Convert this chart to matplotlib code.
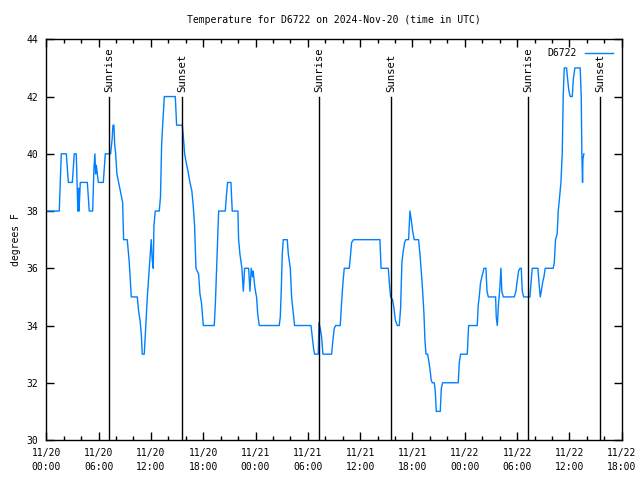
#!/usr/bin/env python3
"""Temperature trace for station D6722, gnuplot-like look."""
from datetime import datetime, timedelta
import matplotlib
matplotlib.use("Agg")
import matplotlib.pyplot as plt
import matplotlib.dates as mdates

# hours since 2024-11-20 00:00 UTC, temperature (F)
hours = [0.0, 1.49, 1.72, 2.30, 2.53, 2.99, 3.21, 3.44, 3.62, 3.67, 3.72, 3.76, 3.90, 4.71,
         4.93, 5.32, 5.47, 5.58, 5.66, 5.74, 5.97, 6.54, 6.77, 7.38, 7.55, 7.65, 7.76, 7.85,
         7.96, 8.10, 8.30, 8.50, 8.76, 8.87, 9.29, 9.52, 9.75, 10.44, 10.59, 10.75, 10.90,
         11.01, 11.24, 11.36, 11.59, 11.82, 12.04, 12.15, 12.27, 12.35, 12.50, 12.96, 13.10,
         13.23, 13.35, 13.54, 14.80, 14.95, 15.60, 15.72, 15.87, 16.05, 16.25, 16.48, 16.70,
         16.85, 17.01, 17.17, 17.47, 17.63, 17.80, 18.01, 19.27, 19.40, 19.54, 19.69, 19.77,
         20.53, 20.65, 20.80, 21.18, 21.33, 21.98, 22.06, 22.21, 22.44, 22.60, 22.75, 23.21,
         23.36, 23.51, 23.66, 23.74, 23.90, 24.05, 24.12, 24.25, 24.43, 26.72, 26.84, 26.95,
         27.07, 27.18, 27.64, 27.76, 27.99, 28.14, 28.37, 28.48, 30.36, 30.51, 30.66, 30.78,
         31.20, 31.27, 31.42, 31.58, 31.73, 32.73, 32.88, 33.03, 33.19, 33.34, 33.72, 33.87,
         34.03, 34.18, 34.75, 34.88, 35.02, 35.25, 38.27, 38.40, 39.23, 39.35, 39.49, 39.72,
         39.88, 40.03, 40.26, 40.49, 40.64, 40.72, 40.79, 40.94, 41.10, 41.25, 41.56, 41.71,
         41.86, 42.02, 42.21, 42.70, 42.86, 43.01, 43.17, 43.32, 43.43, 43.55, 43.74, 43.85,
         44.00, 44.15, 44.27, 44.50, 44.62, 44.73, 45.19, 45.31, 45.46, 47.25, 47.37, 47.52,
         48.29, 48.37, 48.44, 49.43, 49.54, 49.66, 49.81, 49.97, 50.20, 50.43, 50.55, 50.70,
         51.54, 51.61, 51.73, 51.88, 52.00, 52.15, 52.25, 52.42, 53.68, 53.87, 54.03, 54.17,
         54.33, 54.48, 54.60, 54.75, 55.47, 55.60, 55.74, 56.39, 56.51, 56.66, 56.78, 56.93,
         57.08, 57.23, 58.15, 58.27, 58.41, 58.60, 58.72, 58.85, 59.03, 59.18, 59.29, 59.41,
         59.68, 59.80, 59.94, 60.10, 60.33, 60.45, 60.63, 61.24, 61.36, 61.43, 61.51, 61.55,
         61.66]
temps = [38, 38, 40, 40, 39, 39, 40, 40, 38, 38, 38.8, 38, 39, 39,
         38, 38, 39.5, 40, 39.3, 39.6, 39, 39, 40, 40, 40.5, 41, 41, 40.3,
         40, 39.3, 39, 38.7, 38.3, 37, 37, 36.2, 35, 35, 34.5, 34.2, 33.7,
         33, 33, 33.7, 35, 36, 37, 36.3, 36, 37.5, 38, 38, 38.5,
         40.3, 41, 42, 42, 41, 41, 40.6, 40, 39.7, 39.4, 39, 38.7,
         38.2, 37.5, 36, 35.8, 35.1, 34.8, 34, 34, 34.8, 36, 37.2, 38,
         38, 38.5, 39, 39, 38, 38, 37, 36.5, 36, 35.2, 36, 36,
         35.2, 36, 35.7, 35.9, 35.4, 35.1, 35, 34.4, 34, 34, 34.3, 35.2,
         36.5, 37, 37, 36.5, 36, 35, 34.3, 34, 34, 33.6, 33.2, 33,
         33, 34.1, 33.9, 33.6, 33, 33, 33.5, 33.9, 34, 34, 34, 34.8,
         35.5, 36, 36, 36.4, 36.9, 37, 37, 36, 36, 35.5, 35, 34.9,
         34.6, 34.2, 34, 34, 34.6, 35.5, 36.2, 36.6, 36.9, 37, 37, 38,
         37.7, 37.3, 37, 37, 36.5, 35.9, 35.2, 34.4, 33.5, 33, 33, 32.8,
         32.5, 32.1, 32, 32, 31.7, 31, 31, 31.8, 32, 32, 32.7, 33,
         33, 33.5, 34, 34, 34.7, 35, 35.5, 35.7, 36, 36, 35.2, 35,
         35, 34.3, 34, 34.8, 35.2, 36, 35.2, 35, 35, 35.2, 35.6, 35.9,
         36, 36, 35.2, 35, 35, 35.5, 36, 36, 35.5, 35, 35.2, 35.5,
         35.7, 36, 36, 36.2, 37, 37.2, 38, 38.4, 39, 40, 42, 43,
         43, 42.6, 42.2, 42, 42, 42.6, 43, 43, 42, 40, 39, 39.8,
         40]

# sunrise / sunset markers (hours since start)
sun_hours = [7.22, 15.58, 31.31, 39.57, 55.28, 63.53]
sun_labels = ["Sunrise", "Sunset", "Sunrise", "Sunset", "Sunrise", "Sunset"]

start = datetime(2024, 11, 20)
times = [start + timedelta(hours=h) for h in hours]
sun_times = [start + timedelta(hours=h) for h in sun_hours]

mono = "DejaVu Sans Mono"
plt.rcParams["font.family"] = mono
plt.rcParams["font.size"] = 7

fig = plt.figure(figsize=(6.4, 4.8), dpi=100)
ax = fig.add_axes([0.0723, 0.0833, 0.8991, 0.8348])

ax.plot(times, temps, color="#0080ff", lw=1.0, label="D6722")

for t, lab in zip(sun_times, sun_labels):
    ax.plot([t, t], [30, 41.97], color="black", lw=1.0)
    ax.text(t, 42.17, lab, rotation=90, ha="center", va="bottom",
            fontsize=7.7, transform=ax.transData)

ax.set_xlim(start, start + timedelta(hours=66))
ax.set_ylim(30, 44)
ax.set_yticks(range(30, 45, 2))

ax.xaxis.set_major_locator(mdates.HourLocator(byhour=[0, 6, 12, 18]))
ax.xaxis.set_minor_locator(mdates.HourLocator(byhour=range(0, 24, 2)))
ax.xaxis.set_major_formatter(mdates.DateFormatter("%m/%d\n%H:%M"))
for lbl in ax.get_xticklabels():
    lbl.set_linespacing(1.5)

ax.tick_params(which="both", direction="in", top=True, right=True, width=1, color="black")
ax.tick_params(which="major", length=6)
ax.tick_params(which="minor", length=3)
ax.tick_params(axis="x", pad=6)
ax.tick_params(axis="y", pad=6)
for s in ax.spines.values():
    s.set_linewidth(1)

ax.set_ylabel("degrees F", labelpad=4)
ax.set_title("Temperature for D6722 on 2024-Nov-20 (time in UTC)", fontsize=7, pad=12)

leg = ax.legend(loc="upper right", frameon=False, markerfirst=False,
                handlelength=2.9, fontsize=7, borderaxespad=0.5, handletextpad=0.8)

fig.savefig("out.png", dpi=100)
